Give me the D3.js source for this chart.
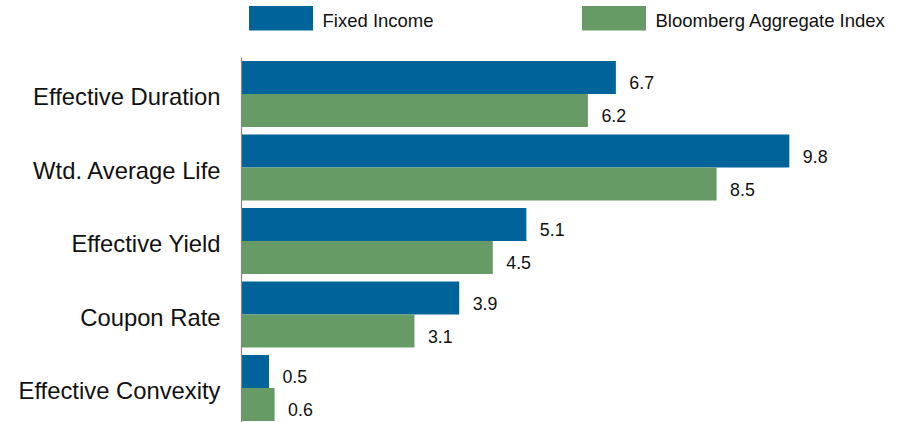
<!DOCTYPE html>
<html>
<head>
<meta charset="utf-8">
<script src="https://cdn.jsdelivr.net/npm/d3@7"></script>
<style>
  html, body { margin: 0; padding: 0; background: #fff; }
  svg { display: block; font-family: "Liberation Sans", Arial, sans-serif; }
</style>
</head>
<body>
<svg id="chart" width="911" height="422"></svg>
<script>
const categories = ["Effective Duration", "Wtd. Average Life", "Effective Yield", "Coupon Rate", "Effective Convexity"];
const seriesNames = ["Fixed Income", "Bloomberg Aggregate Index"];
const fixedIncome = [6.7, 9.8, 5.1, 3.9, 0.5];
const bloombergAgg = [6.2, 8.5, 4.5, 3.1, 0.6];
const colors = ["#00639a", "#679b66"];

const seriesValues = [fixedIncome, bloombergAgg];
const data = categories.map((c, i) => ({
  category: c,
  values: seriesNames.map((s, j) => ({ series: s, value: seriesValues[j][i], idx: j }))
}));

const svg = d3.select("#chart");

const x = d3.scaleLinear().domain([0, 10]).range([241, 800.5]);
const y = d3.scaleBand().domain(categories).range([57.25, 424.75]).paddingInner(0.102).paddingOuter(0.051);
const ySub = d3.scaleBand().domain(seriesNames).range([0, y.bandwidth()]).padding(0);

// bars
const groups = svg.append("g").selectAll("g")
  .data(data).join("g")
  .attr("transform", d => `translate(0,${y(d.category)})`);

groups.selectAll("rect")
  .data(d => d.values).join("rect")
  .attr("x", x(0))
  .attr("y", d => ySub(d.series))
  .attr("width", d => x(d.value) - x(0))
  .attr("height", ySub.bandwidth())
  .attr("fill", d => colors[d.idx]);

groups.selectAll("text.val")
  .data(d => d.values).join("text")
  .attr("class", "val")
  .attr("x", d => x(d.value) + 13.5)
  .attr("y", d => ySub(d.series) + ySub.bandwidth() / 2 + 12)
  .attr("font-size", "17.8px")
  .attr("fill", "#111")
  .text(d => d3.format(".1f")(d.value));

// category axis
const yAxis = d3.axisLeft(y).tickSize(0).tickPadding(20.5);
const axisG = svg.append("g")
  .attr("transform", `translate(${x(0)},0)`)
  .call(yAxis);
axisG.select(".domain").attr("stroke", "#888").attr("stroke-width", 1.2);
axisG.selectAll("text")
  .attr("font-size", "23.8px")
  .attr("font-family", "Liberation Sans, Arial, sans-serif")
  .attr("fill", "#111")
  .attr("dy", null)
  .attr("y", 11);

// legend
const legendX = [249, 582];
const legend = svg.append("g").selectAll("g")
  .data(seriesNames).join("g")
  .attr("transform", (d, i) => `translate(${legendX[i]},6)`);
legend.append("rect")
  .attr("width", 64).attr("height", 24.5)
  .attr("fill", (d, i) => colors[i]);
legend.append("text")
  .attr("x", 73.5).attr("y", 20.7)
  .attr("font-size", "18.5px")
  .attr("fill", "#111")
  .text(d => d);
</script>
</body>
</html>
